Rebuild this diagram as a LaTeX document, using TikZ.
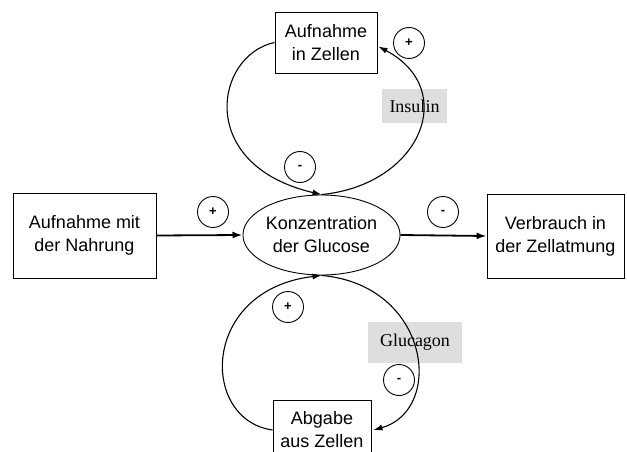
\documentclass[tikz,border=0pt]{standalone}
\usepackage{fontspec}
\setmainfont{Liberation Sans}
\newfontfamily\seriffont{Liberation Serif}
\usetikzlibrary{arrows.meta,shapes.geometric,calc}
\begin{document}
\begin{tikzpicture}[x=1pt,y=-1pt,
  box/.style={draw,line width=0.9pt,align=center,inner sep=0pt,font=\fontsize{18}{23}\selectfont},
  conc/.style={draw,ellipse,line width=0.9pt,align=center,inner sep=0pt,minimum width=153pt,minimum height=80pt,font=\fontsize{18}{23}\selectfont},
  sign/.style={draw,circle,line width=0.9pt,minimum size=31pt,inner sep=0pt,font=\fontsize{13}{13}\selectfont\bfseries},
  flow/.style={line width=1.8pt,-{Latex[length=10pt,width=7pt]}},
  loopar/.style={line width=1.1pt,-{Latex[length=9pt,width=6pt]}},
  hormone/.style={fill=black!13,inner sep=0pt,font=\seriffont\fontsize{18}{18}\selectfont}
]
\useasboundingbox (0,0) rectangle (627,452);
\fill[white] (0,0) rectangle (627,452);

\node[hormone,minimum width=65pt,minimum height=34pt] (ins) at (414.5,106) {Insulin};
\node[hormone,minimum width=94pt,minimum height=41pt] (glg) at (415,342.5) {Glucagon};

\node[box,minimum width=102pt,minimum height=61pt] (top) at (326,42.5) {Aufnahme\\in Zellen};
\node[box,minimum width=143pt,minimum height=85pt] (left) at (84.5,235.5) {Aufnahme mit\\der Nahrung};
\node[box,minimum width=137pt,minimum height=84pt] (right) at (555.5,236) {Verbrauch in\\der Zellatmung};
\node[conc] (gluc) at (321.5,235) {Konzentration\\der Glucose};
\node[box,minimum width=98pt,minimum height=60pt] (bot) at (322,430) {Abgabe\\aus Zellen};

\node[sign] (s1) at (213,212) {+};
\node[sign] (s2) at (443,212) {-};
\node[sign] (s3) at (409,43) {+};
\node[sign] (s4) at (300,167) {-};
\node[sign] (s5) at (288,307) {+};
\node[sign] (s6) at (399,380) {-};

\draw[flow] (left.east) -- (gluc.west);
\draw[flow] (gluc.east) -- (right.west);

\draw[loopar] (top.west) .. controls (215,55) and (195,165) .. (gluc.north);
\draw[loopar] (gluc.north) .. controls (420,185) and (460,90) .. ($(top.east)+(1,4)$);
\draw[loopar] (bot.west) .. controls (200,420) and (200,290) .. (gluc.south);
\draw[loopar] (gluc.south) .. controls (430,285) and (445,410) .. ($(bot.east)+(2,0)$);
\end{tikzpicture}
\end{document}
